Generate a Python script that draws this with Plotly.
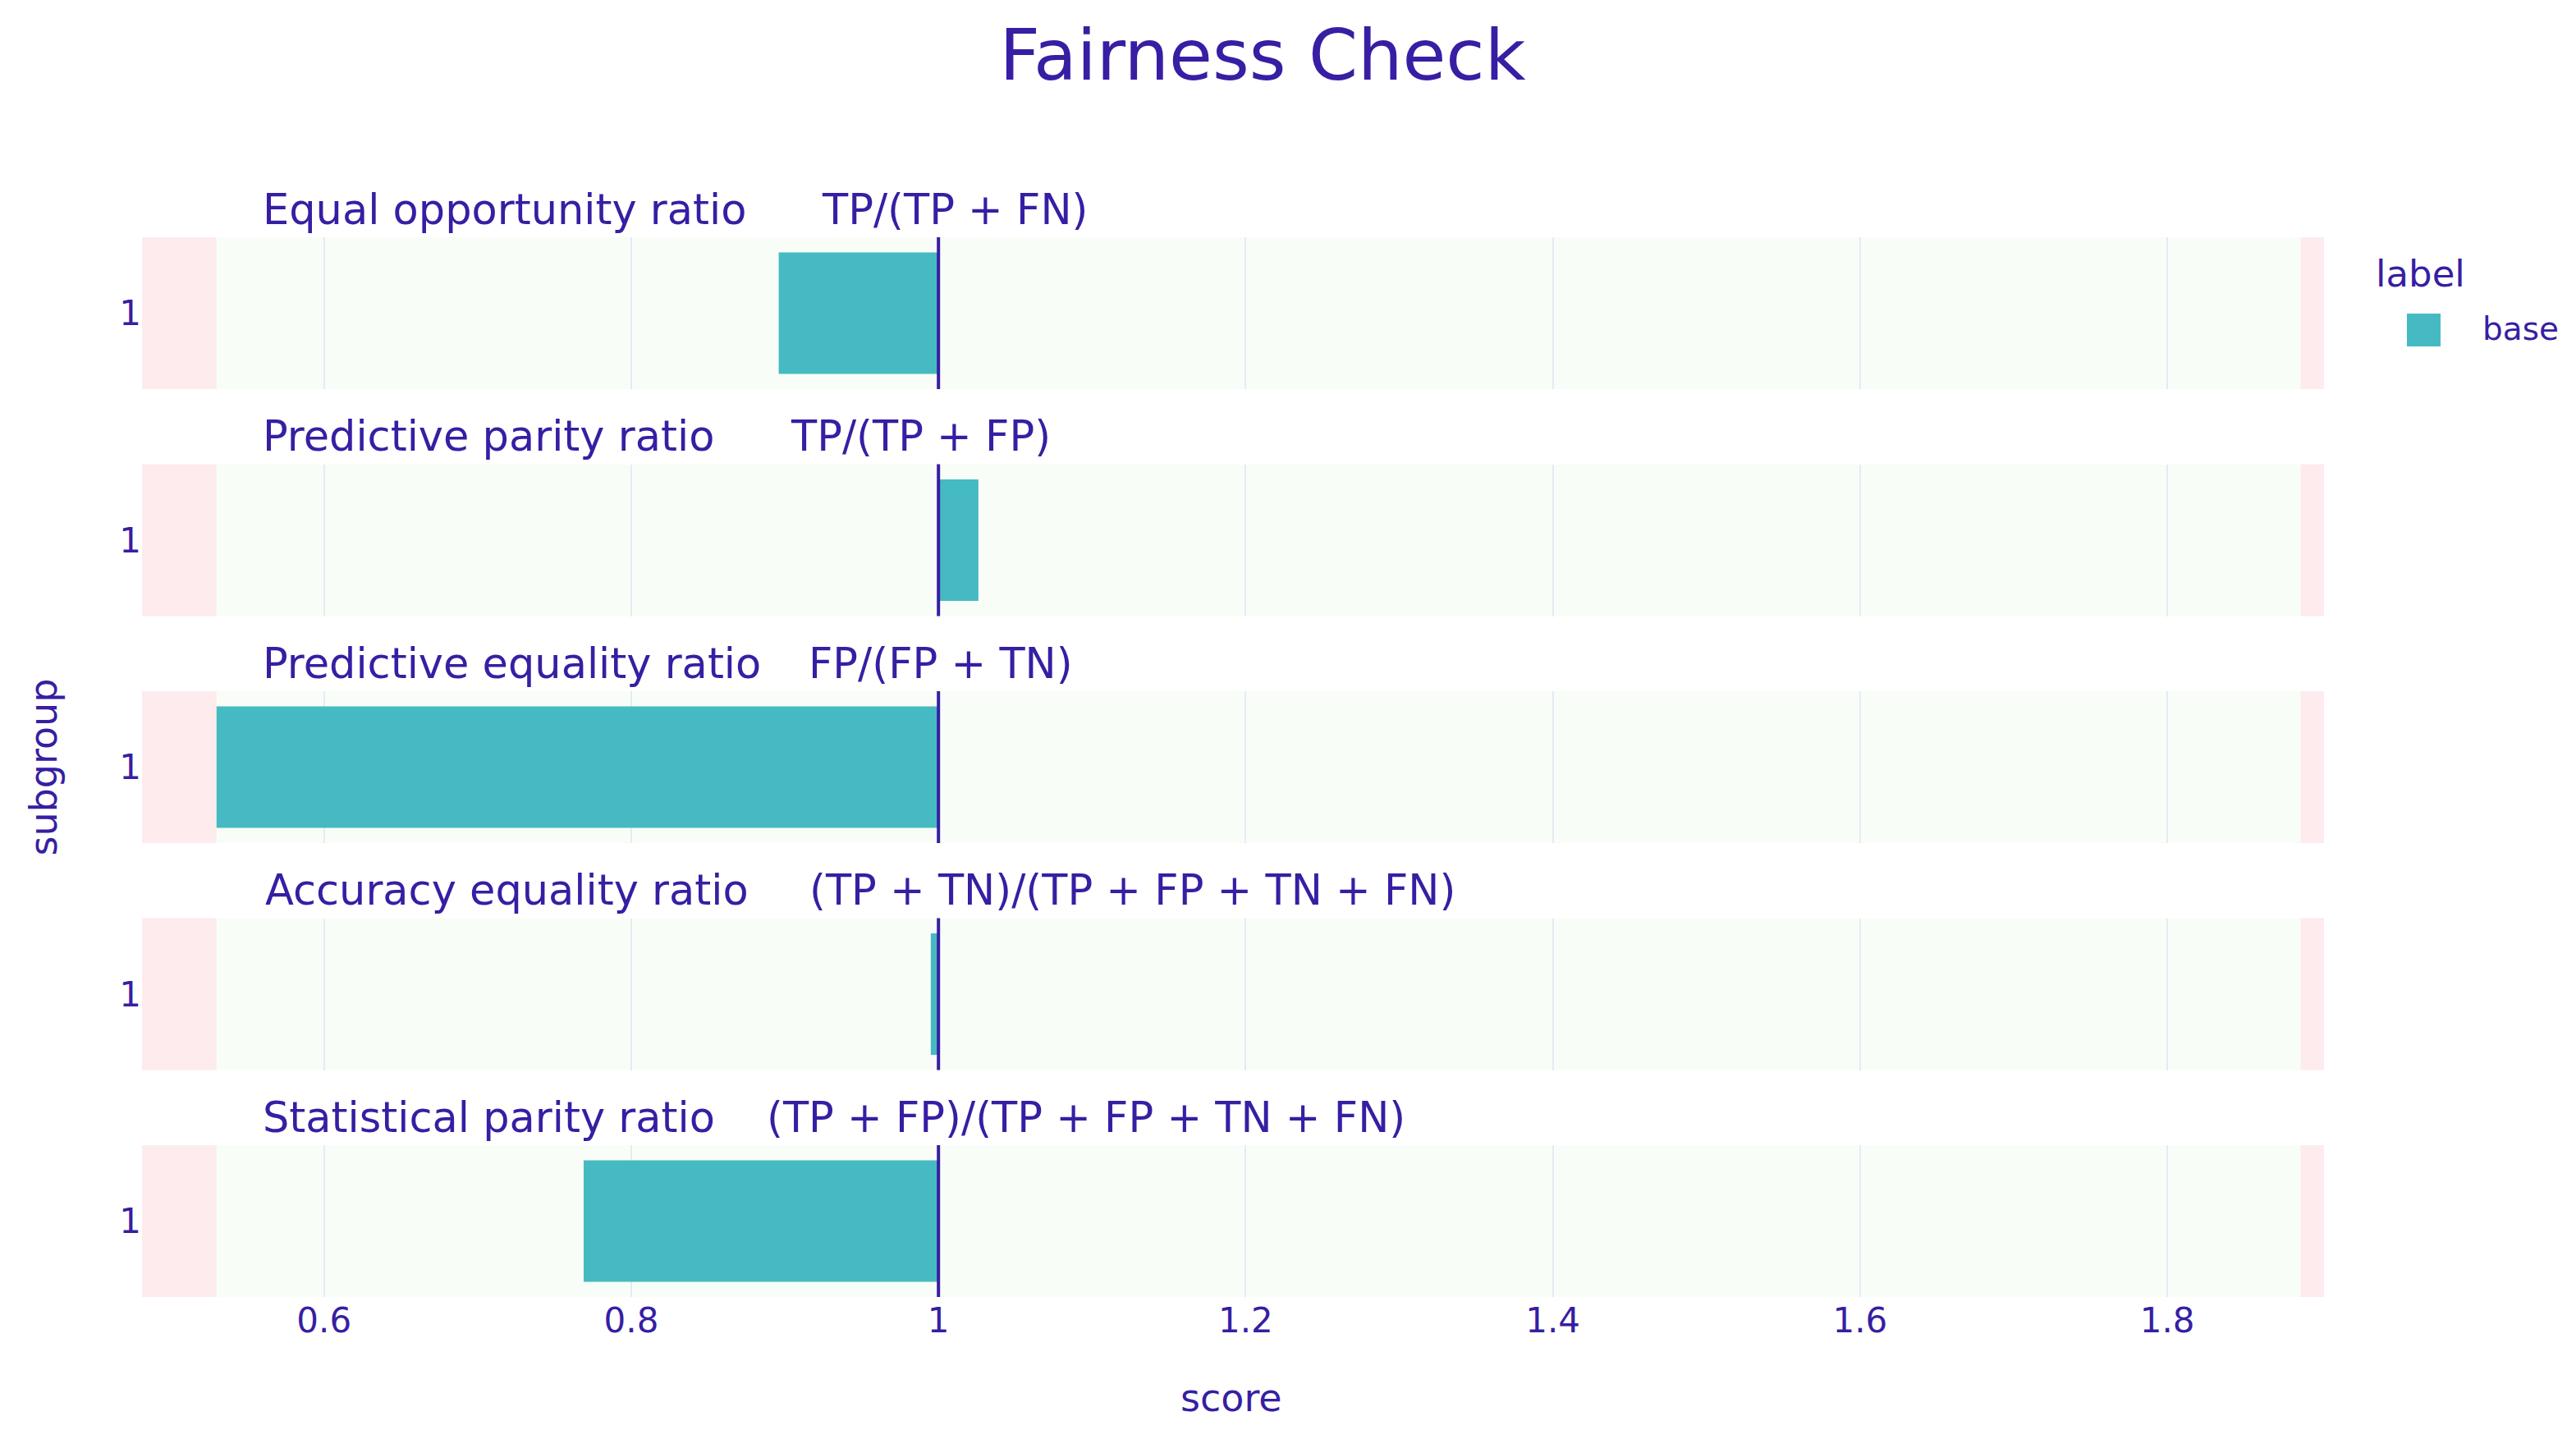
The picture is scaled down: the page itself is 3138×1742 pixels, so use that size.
import plotly.graph_objects as go
from plotly.subplots import make_subplots

# ---- data ----
metrics = ["Equal opportunity ratio", "Predictive parity ratio", "Predictive equality ratio",
           "Accuracy equality ratio", "Statistical parity ratio"]
formulas = ["TP/(TP + FN)", "TP/(TP + FP)", "FP/(FP + TN)",
            "(TP + TN)/(TP + FP + TN + FN)", "(TP + FP)/(TP + FP + TN + FN)"]
subgroups = ["1"]
scores = [0.896, 1.026, 0.530, 0.995, 0.769]
label_name = "base"
legend_title = "label"
epsilon = 0.53
x_range = [0.4815, 1.902]
tick_vals = [0.6, 0.8, 1.0, 1.2, 1.4, 1.6, 1.8]
tick_text = ["0.6", "0.8", "1", "1.2", "1.4", "1.6", "1.8"]

# ---- style ----
FONT = "DejaVu Sans"
TXT = "#371ea3"
BAR = "#46bac2"
W, H = 3138, 1742
OFF = 8  # page body margin offset
REF_L, REF_T, PW, PH = 173, 289, 2658, 1291
ML, MT = REF_L - OFF, REF_T - OFF
MR, MB = W - ML - PW, H - MT - PH

n = len(metrics)
fig = make_subplots(rows=n, cols=1, shared_xaxes=True, vertical_spacing=91.5 / PH)

for i in range(n):
    r = i + 1
    fig.add_trace(go.Bar(orientation="h", y=subgroups, x=[scores[i] - 1], base=[1],
                         marker=dict(color=BAR, line=dict(width=0)), width=0.8,
                         name=label_name, showlegend=False), row=r, col=1)
    xa = "x" if r == 1 else f"x{r}"
    ya = "y" if r == 1 else f"y{r}"
    for x0, x1, col in [(x_range[0], epsilon, "rgba(240,90,113,0.12)"),
                        (epsilon, 1 / epsilon, "rgba(199,245,191,0.12)"),
                        (1 / epsilon, x_range[1], "rgba(240,90,113,0.12)")]:
        fig.add_shape(type="rect", xref=xa, yref=f"{ya} domain", x0=x0, x1=x1, y0=0, y1=1,
                      fillcolor=col, line=dict(width=0), layer="below")
    fig.add_shape(type="line", xref=xa, yref=f"{ya} domain", x0=1, x1=1, y0=0, y1=1,
                  line=dict(color=TXT, width=4), layer="above")

fig.update_xaxes(range=x_range, tickvals=tick_vals, ticktext=tick_text, showgrid=True,
                 gridcolor="#E6EAF4", gridwidth=2, zeroline=False, showline=False, ticks="",
                 tickfont=dict(family=FONT, size=42, color=TXT))
fig.update_yaxes(showgrid=False, zeroline=False, showline=False, ticks="",
                 tickfont=dict(family=FONT, size=42, color=TXT))


def px_x(v):
    return (v - REF_L) / PW


def px_y(v):
    return (REF_T + PH - v) / PH


annotations = []
for i in range(n):
    r = i + 1
    dom = fig.layout["yaxis" if r == 1 else f"yaxis{r}"].domain
    yy = dom[1] + 34 / PH
    name_x = px_x(318) if i != 3 else px_x(321)
    form_px = [999, 961, 982.5, 984, 932][i]
    annotations.append(dict(text=metrics[i], x=name_x, y=yy, xref="paper", yref="paper",
                            xanchor="left", yanchor="middle", showarrow=False,
                            font=dict(family=FONT, size=51, color=TXT)))
    annotations.append(dict(text=formulas[i], x=px_x(form_px), y=yy, xref="paper", yref="paper",
                            xanchor="left", yanchor="middle", showarrow=False,
                            font=dict(family=FONT, size=51, color=TXT)))

annotations.append(dict(text="score", x=px_x(1500), y=px_y(1703), xref="paper",
                        yref="paper", xanchor="center", yanchor="middle", showarrow=False,
                        font=dict(family=FONT, size=46, color=TXT)))
annotations.append(dict(text="subgroup", x=px_x(52), y=0.5, xref="paper", yref="paper",
                        xanchor="center", yanchor="middle", textangle=-90, showarrow=False,
                        font=dict(family=FONT, size=46, color=TXT)))

# legend
annotations.append(dict(text=legend_title, x=px_x(2892), y=px_y(333), xref="paper", yref="paper",
                        xanchor="left", yanchor="middle", showarrow=False,
                        font=dict(family=FONT, size=45, color=TXT)))
annotations.append(dict(text=label_name, x=px_x(3022), y=px_y(400), xref="paper", yref="paper",
                        xanchor="left", yanchor="middle", showarrow=False,
                        font=dict(family=FONT, size=39, color=TXT)))
fig.add_shape(type="rect", xref="paper", yref="paper", x0=px_x(2932), x1=px_x(2973),
              y0=px_y(422), y1=px_y(382), fillcolor=BAR, line=dict(width=0))

fig.update_layout(
    width=W, height=H,
    margin=dict(l=ML, r=MR, t=MT, b=MB),
    plot_bgcolor="white", paper_bgcolor="white",
    title=dict(text="Fairness Check", x=(1538 - OFF) / W, xanchor="center",
               y=1 - (67 - OFF) / H, yanchor="middle",
               font=dict(family=FONT, size=86, color=TXT)),
    annotations=annotations,
    showlegend=False,
    bargap=0.2,
)

fig.write_html("out.html")
